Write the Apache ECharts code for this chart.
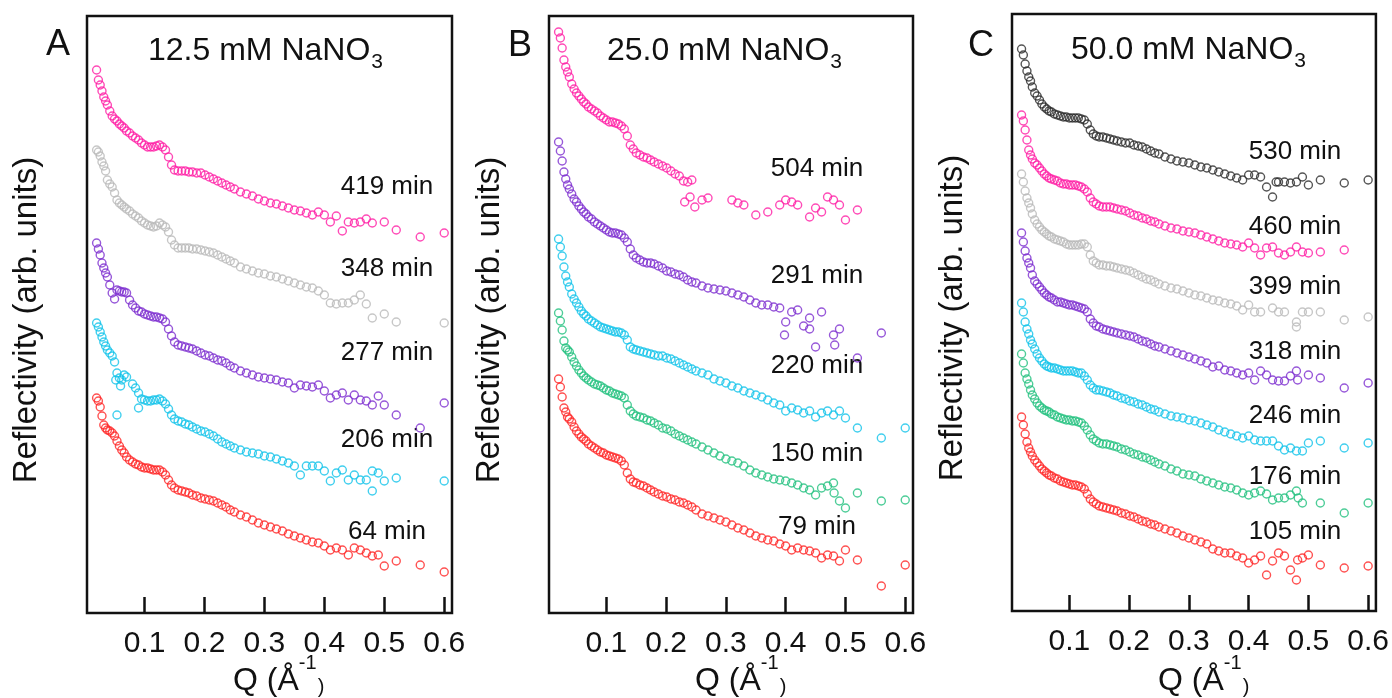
<!DOCTYPE html>
<html><head><meta charset="utf-8">
<script src="https://cdn.jsdelivr.net/npm/echarts@6/dist/echarts.min.js"></script>
<style>html,body{margin:0;padding:0;background:#fff}#c{width:1392px;height:698px}</style>
</head><body><div id="c"></div>
<script>
// Shared Q grid (Å^-1)
const Q = [
  0.020,0.023,0.026,0.029,0.032,0.035,0.038,
  0.042,0.046,0.050,0.054,0.058,0.062,0.066,0.070,
  0.075,0.080,0.085,0.090,0.095,0.100,0.105,0.110,0.115,0.120,0.125,0.130,0.135,0.140,0.145,0.150,
  0.156,0.162,0.168,0.174,0.180,
  0.187,0.194,0.201,0.208,0.215,0.222,0.229,0.236,0.243,0.250,
  0.26,0.27,0.28,0.29,0.30,0.31,0.32,0.33,0.34,0.35,0.36,0.37,0.38,0.39,0.40,0.41,0.42,0.43,0.44,0.45,0.46,0.47,0.48,0.49,0.50,
  0.52,0.56,0.60
];
const TICKS = [0.1,0.2,0.3,0.4,0.5,0.6];

// Panel A: 12.5 mM (offset reflectivity, arb. units)
const A419 = [543,533,528,522,516,512,508, 502,497,494,492,489,487,485,482,
  480,477,475,473,470,468,466,466,466,467,468,466,463,456,448,443, 442,442,442,441,441,
  440,440,438,436,434,432,430,428,426,424,
  421,419,417,414,412,410,409,407,405,403,402,400,398,401,398,391,397,382,391,390,391,394,390,null,391,
  383,376,380];
const A348 = [463,461,457,451,447,442,433, 429,426,420,413,410,408,406,404,
  402,399,397,395,392,390,388,387,386,387,390,388,386,381,373,368, 365,365,365,365,364,
  364,363,362,361,360,358,356,354,352,350,
  346,344,342,340,339,337,336,334,332,330,328,326,325,322,318,310,309,310,310,313,318,309,295,null,299,
  291,null,290];
const A277 = [370,364,358,350,345,340,336, 328,320,314,323,322,321,321,320,
  313,308,305,302,301,299,298,297,296,296,295,294,291,284,277,271, 268,267,266,265,264,
  262,260,258,257,255,253,252,250,247,245,
  242,240,238,236,235,234,233,231,230,225,228,227,226,228,222,215,218,220,213,218,213,212,208,217,208,
  198,185,210];
const A206 = [290,286,281,276,271,267,263, 260,257,251,240,235,233,238,236,
  null,229,225,220,214,213,212,212,213,213,214,212,209,204,198,194, 192,191,189,188,186,
  184,182,181,179,177,174,171,169,167,165,
  163,161,160,159,157,156,154,152,150,147,138,147,147,147,142,132,140,143,133,138,133,133,142,140,132,
  135,null,132];
const A206x = [[0.052,233],[0.054,198],[0.060,227],[0.090,205],[0.480,122]];
const A64 = [215,212,206,197,188,185,183, 182,180,177,172,167,163,160,156,
  153,151,149,148,146,145,145,144,143,143,143,141,138,133,128,125, 123,122,121,120,118,
  117,115,114,113,112,110,108,106,103,101,
  98,96,93,90,88,86,84,82,79,77,75,73,71,70,67,63,65,63,58,65,63,60,57,58,47,
  52,48,41];

// Panel B: 25.0 mM
const B504 = [581,575,565,553,546,541,536, 529,524,520,517,514,511,509,506,
  504,502,500,497,495,493,491,491,490,489,487,484,477,468,464,460, 458,456,455,453,451,
  449,447,445,442,439,437,432,431,433,null,
  413,415,null,null,null,413,410,408,null,398,null,401,null,408,413,411,408,null,396,405,401,416,413,408,393,
  403,null,null];
const B504x = [[0.231,411],[0.240,416],[0.248,406]];
const B291 = [471,462,452,441,434,428,424, 419,414,411,407,404,401,399,396,
  394,391,389,387,385,383,381,380,380,379,378,375,371,364,358,355, 353,351,350,350,349,
  347,345,342,341,339,338,336,333,331,330,
  327,325,324,323,322,320,318,316,313,310,308,308,306,305,291,301,303,287,295,266,301,null,278,284,null,
  255,280,null];
const B291x = [[0.398,278],[0.440,284],[0.482,268]];
const B220 = [374,366,357,346,337,331,326, 319,314,310,306,302,299,297,294,
  292,290,288,286,285,284,283,282,281,281,280,278,273,266,264,263, 262,261,260,259,258,
  257,257,255,254,252,250,248,246,244,242,
  240,238,234,232,230,227,225,222,220,218,216,213,210,208,202,205,203,200,202,196,200,202,198,202,195,
  185,175,185];
const B150 = [300,292,283,272,265,263,261, 256,251,247,243,240,237,235,233,
  231,229,228,227,225,223,222,220,219,218,217,215,208,202,199,197, 196,195,193,192,190,
  188,185,184,182,179,177,175,173,171,169,
  166,163,160,157,154,152,150,147,143,140,138,136,134,133,132,130,128,125,123,118,125,127,130,112,105,
  120,112,113];
const B150x = [[0.481,120]];
const B79 = [234,226,216,205,201,196,194, 191,186,182,179,176,174,172,169,
  167,165,163,161,160,158,157,156,155,154,152,148,140,134,131,130, 128,127,125,123,121,
  119,117,116,114,113,111,110,108,106,103,
  99,97,95,93,91,88,85,83,80,77,75,73,72,69,67,63,65,63,62,60,55,58,57,52,63,
  53,27,48];

// Panel C: 50.0 mM
const C530 = [562,556,547,540,534,530,524, 518,515,511,507,504,502,500,499,
  497,496,495,494,494,493,493,493,493,492,491,487,481,477,475,474, 474,473,472,471,470,
  469,468,468,466,465,464,462,460,458,457,
  454,452,450,449,448,446,444,443,441,439,437,435,433,431,436,436,434,424,414,429,429,428,429,434,426,
  431,428,431];
const C530x = [[0.446,429]];
const C460 = [496,490,481,471,461,456,452, 448,446,443,440,437,435,433,432,
  431,430,428,427,427,426,426,426,425,424,422,419,413,409,407,405, 404,404,404,403,402,
  401,400,398,396,395,393,392,390,389,387,
  385,383,382,380,379,378,376,374,372,370,368,367,366,364,368,363,356,363,364,358,356,359,364,359,358,
  359,361,null];
const C399 = [437,429,420,413,408,403,397, 391,387,384,381,379,377,375,374,
  372,371,370,369,367,366,366,366,366,367,367,364,356,350,348,346, 346,345,345,344,343,
  342,341,340,338,336,334,332,331,329,327,
  325,323,322,320,318,316,315,313,311,310,308,307,305,301,306,299,299,null,303,299,299,null,289,299,299,
  299,291,294];
const C399x = [[0.480,284]];
const C318 = [378,369,360,353,348,343,336, 330,327,324,321,318,316,314,313,
  311,309,309,308,307,306,306,305,304,303,302,299,292,288,285,284, 282,281,280,279,278,
  277,276,275,274,272,270,269,267,265,264,
  262,260,258,256,254,252,250,248,244,245,241,240,238,236,238,231,240,236,231,230,230,235,240,null,236,
  233,223,228];
const C318x = [[0.482,231]];
const C246 = [308,299,289,282,277,271,267, 262,257,253,250,247,245,244,243,
  243,242,241,240,240,240,240,239,238,238,235,231,226,223,221,221, 220,219,218,216,215,
  213,212,210,209,207,206,204,202,201,199,
  197,195,194,193,191,190,188,186,184,181,179,177,175,173,175,171,170,170,170,165,161,163,160,160,168,
  170,163,168];
const C176 = [257,248,238,232,227,221,216, 212,208,205,203,201,200,199,197,
  196,194,193,192,191,191,190,190,189,188,185,181,176,172,170,168, 167,167,166,165,164,
  162,161,159,157,156,154,153,151,149,147,
  145,142,140,137,136,135,132,130,128,126,124,123,121,118,116,118,120,117,111,113,113,116,120,108,null,
  108,98,108];
const C176x = [[0.483,113]];
const C105 = [194,186,177,169,163,159,155, 151,148,145,142,140,138,136,135,
  133,132,130,129,128,127,126,126,125,124,122,117,112,109,107,105, 104,103,102,101,100,
  98,97,95,94,92,90,89,87,86,84,
  82,80,78,75,73,71,69,67,62,60,58,58,55,53,48,51,55,36,50,58,55,41,31,53,56,
  46,43,45];
const C105x = [[0.482,51]];

const LABELS_A = ['419 min','348 min','277 min','206 min','64 min'];
const LABELS_B = ['504 min','291 min','220 min','150 min','79 min'];
const LABELS_C = ['530 min','460 min','399 min','318 min','246 min','176 min','105 min'];

const COL = {pink:'#ff1ea5', gray:'#b9b9b9', purple:'#7d2ed0', cyan:'#12c3ea', red:'#ff2626', green:'#22c07e', black:'#2a2a2a'};
const FONT = '"Liberation Sans", Arial, Helvetica, sans-serif';
const TXT = '#111';
const TITLE_FS = 32;

function pts(ys, extra) {
  const out = [];
  Q.forEach((q, i) => { if (ys[i] != null) out.push([q, ys[i]]); });
  (extra || []).forEach(p => out.push(p));
  return out;
}
const mctx = document.createElement('canvas').getContext('2d');
function textW(t, fs) { mctx.font = fs + 'px ' + FONT; return mctx.measureText(t).width; }

const panels = [
  {grid:{left:87, top:16, width:365, height:597}, letter:'A', lx:58, ly:45,
   title:'12.5 mM NaNO', tx:148, ty:51, yx:27, yy:320,
   series:[[A419,null,'pink'],[A348,null,'gray'],[A277,null,'purple'],[A206,A206x,'cyan'],[A64,null,'red']],
   labels:LABELS_A, labx:387, laby:[187,269,353,440,532]},
  {grid:{left:549, top:16, width:364, height:597}, letter:'B', lx:520, ly:46,
   title:'25.0 mM NaNO', tx:607, ty:51, yx:490, yy:320,
   series:[[B504,B504x,'pink'],[B291,B291x,'purple'],[B220,null,'cyan'],[B150,B150x,'green'],[B79,null,'red']],
   labels:LABELS_B, labx:817, laby:[169,276,366,454,527]},
  {grid:{left:1012, top:14, width:364, height:597}, letter:'C', lx:981, ly:46,
   title:'50.0 mM NaNO', tx:1071, ty:50, yx:953, yy:318,
   series:[[C530,C530x,'black'],[C460,null,'pink'],[C399,C399x,'gray'],[C318,C318x,'purple'],[C246,null,'cyan'],[C176,C176x,'green'],[C105,C105x,'red']],
   labels:LABELS_C, labx:1295, laby:[152,227,287,352,416,477,532]}
];

const grids = [], xAxes = [], yAxes = [], series = [], graphics = [];
panels.forEach((p, k) => {
  grids.push(Object.assign({show:true, borderColor:'#111', borderWidth:2.5, backgroundColor:'transparent'}, p.grid));
  xAxes.push({type:'value', gridIndex:k, min:0.004, max:0.613,
    splitLine:{show:false}, axisLine:{show:false},
    axisTick:{show:true, inside:true, length:16, lineStyle:{color:'#111', width:2.5}, customValues:TICKS},
    axisLabel:{show:true, customValues:TICKS, fontSize:30, color:TXT, fontFamily:FONT, margin:16,
      formatter:v => v.toFixed(1)}});
  yAxes.push({type:'value', gridIndex:k, min:0, max:597, show:false});
  p.series.forEach(s => {
    series.push({type:'scatter', xAxisIndex:k, yAxisIndex:k, data:pts(s[0], s[1]),
      symbol:'circle', symbolSize:8, silent:true,
      itemStyle:{color:'rgba(0,0,0,0)', borderColor:COL[s[2]], borderWidth:1.4}});
  });
  const L = p.grid.left;
  const tw = textW(p.title, TITLE_FS);
  graphics.push({type:'text', x:p.lx, y:p.ly, style:{text:p.letter, fontSize:36, fontFamily:FONT, fill:TXT, align:'center', verticalAlign:'middle'}});
  graphics.push({type:'text', x:p.tx, y:p.ty, style:{text:p.title, fontSize:TITLE_FS, fontFamily:FONT, fill:TXT, align:'left', verticalAlign:'middle'}});
  graphics.push({type:'text', x:p.tx + tw + 1, y:p.ty + 11, style:{text:'3', fontSize:21, fontFamily:FONT, fill:TXT, align:'left', verticalAlign:'middle'}});
  graphics.push({type:'text', x:p.yx, y:p.yy, rotation:Math.PI/2, style:{text:'Reflectivity (arb. units)', fontSize:33, fontFamily:FONT, fill:TXT, align:'center', verticalAlign:'middle'}});
  const qw = textW('Q (Å', 32);
  graphics.push({type:'text', x:L+146, y:681, style:{text:'Q (Å', fontSize:32, fontFamily:FONT, fill:TXT, align:'left', verticalAlign:'middle'}});
  graphics.push({type:'text', x:L+146+qw, y:663, style:{text:'-1', fontSize:20, fontFamily:FONT, fill:TXT, align:'left', verticalAlign:'middle'}});
  graphics.push({type:'text', x:L+146+qw+19, y:687, style:{text:')', fontSize:20, fontFamily:FONT, fill:TXT, align:'left', verticalAlign:'middle'}});
  p.labels.forEach((t, i) => {
    graphics.push({type:'text', x:p.labx, y:p.laby[i], style:{text:t, fontSize:26, fontFamily:FONT, fill:TXT, align:'center', verticalAlign:'middle'}});
  });
});

const chart = echarts.init(document.getElementById('c'), null, {renderer:'canvas'});
chart.setOption({
  animation:false, backgroundColor:'#fff',
  grid:grids, xAxis:xAxes, yAxis:yAxes, series:series, graphic:graphics
});
</script></body></html>
